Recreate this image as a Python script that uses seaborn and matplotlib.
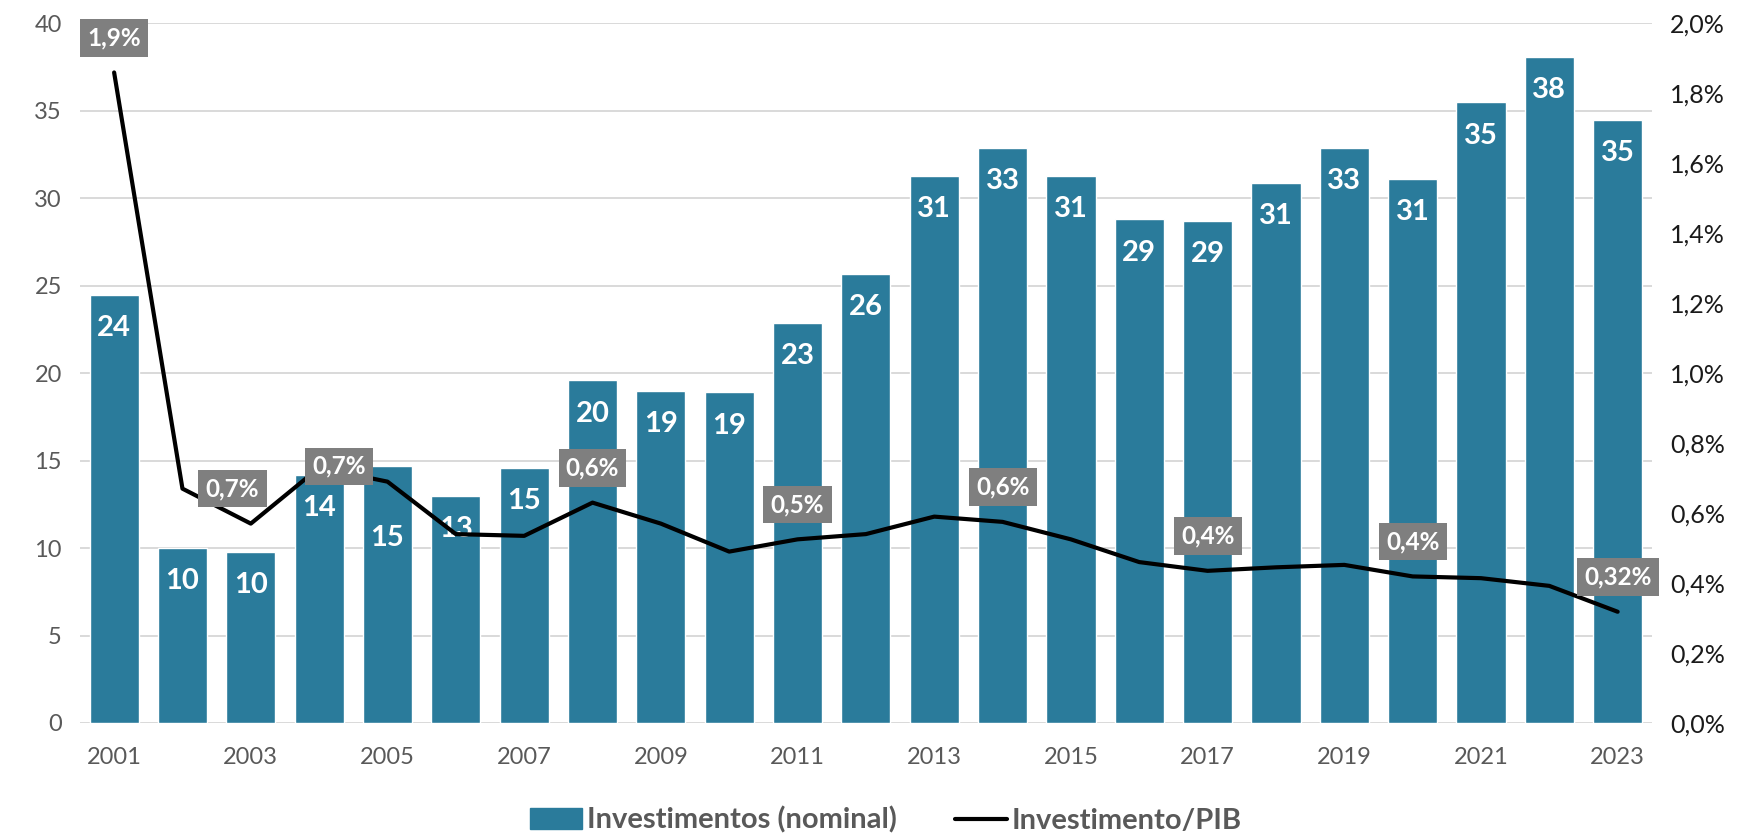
import numpy as np
import pandas as pd
import matplotlib.pyplot as plt
import seaborn as sns
from matplotlib.patches import Patch
from matplotlib.lines import Line2D
from matplotlib.ticker import FuncFormatter

# Data
years = ['2001', '2002', '2003', '2004', '2005', '2006', '2007', '2008', '2009', '2010', '2011', '2012',
         '2013', '2014', '2015', '2016', '2017', '2018', '2019', '2020', '2021', '2022', '2023']
invest = [24.5, 10.0, 9.8, 14.2, 14.7, 13.0, 14.6, 19.6, 19.0, 18.9, 22.9, 25.7,
          31.3, 32.9, 31.3, 28.8, 28.7, 30.9, 32.9, 31.1, 35.5, 38.1, 34.5]
bar_labels = ['24', '10', '10', '14', '15', '13', '15', '20', '19', '19', '23', '26',
              '31', '33', '31', '29', '29', '31', '33', '31', '35', '38', '35']
pib_pct = [1.86, 0.67, 0.57, 0.73, 0.69, 0.54, 0.535, 0.63, 0.57, 0.49, 0.525, 0.54,
           0.59, 0.575, 0.525, 0.46, 0.435, 0.445, 0.452, 0.419, 0.414, 0.392, 0.318]
line_labels = {'2001': '1,9%', '2002': '0,7%', '2005': '0,7%', '2008': '0,6%', '2011': '0,5%',
               '2014': '0,6%', '2017': '0,4%', '2020': '0,4%', '2023': '0,32%'}
xtick_years = ['2001', '2003', '2005', '2007', '2009', '2011', '2013', '2015', '2017', '2019', '2021', '2023']

bar_color = '#2a7b9b'
gray_txt = '#595959'

sns.set_style('white')
plt.rcParams['font.family'] = ['Lato', 'DejaVu Sans']

df = pd.DataFrame({'ano': years, 'invest': invest, 'pib': pib_pct})
df['pos'] = np.arange(len(df))

fig, ax = plt.subplots(figsize=(17.61, 8.39), dpi=100)
fig.subplots_adjust(left=0.0454, right=0.938, bottom=0.1383, top=0.972)

# Bars (left axis)
sns.barplot(data=df, x='ano', y='invest', color=bar_color, saturation=1, width=0.72, ax=ax, zorder=2)
ax.set_ylim(0, 40)
ax.set_xlim(-0.5, len(years) - 0.5)
ax.set_yticks(np.arange(0, 41, 5))
ax.yaxis.grid(True, color='#d9d9d9', lw=1.4)
ax.set_axisbelow(True)
ax.set_xlabel('')
ax.set_ylabel('')
ax.set_xticks([years.index(y) for y in xtick_years])
ax.set_xticklabels(xtick_years)
ax.tick_params(axis='y', labelsize=17, labelcolor=gray_txt, length=0, pad=13)
ax.tick_params(axis='x', labelsize=17, labelcolor=gray_txt, length=0, pad=17)
for s in ax.spines.values():
    s.set_visible(False)

# Bar value labels
for i, (v, lbl) in enumerate(zip(df['invest'], bar_labels)):
    dy = -52 if years[i] == '2005' else -24
    ax.annotate(lbl, (i, v), xytext=(0, dy), textcoords='offset points', ha='center', va='center',
                color='white', fontsize=21, fontweight='bold', zorder=3)

# Line (right axis)
ax2 = ax.twinx()
sns.lineplot(data=df, x='pos', y='pib', color='black', lw=3, ax=ax2)
ax2.set_ylim(0, 2)
ax2.set_yticks(np.arange(0, 2.01, 0.2))
ax2.yaxis.set_major_formatter(FuncFormatter(lambda v, p: f'{v:.1f}%'.replace('.', ',')))
ax2.set_ylabel('')
ax2.set_xlabel('')
ax2.tick_params(axis='y', labelsize=18, labelcolor='#1a1a1a', length=0, pad=13)
for s in ax2.spines.values():
    s.set_visible(False)
ax2.set_xlim(-0.5, len(years) - 0.5)

# Line labels in gray boxes
offsets = {'2002': (36, 0), '2005': (-35, 11)}
for i, y in enumerate(years):
    if y in line_labels:
        off = offsets.get(y, (0, 25))
        ax2.annotate(line_labels[y], (i, pib_pct[i]), xytext=off, textcoords='offset points',
                     ha='center', va='center', color='white', fontsize=17.5, fontweight='bold',
                     bbox=dict(boxstyle='square,pad=0.3', fc='#7f7f7f', ec='none'))

# Legend
handles = [Patch(color=bar_color, label='Investimentos (nominal)'),
           Line2D([], [], color='black', lw=3, label='Investimento/PIB')]
fig.legend(handles=handles, loc='lower center', bbox_to_anchor=(0.503, -0.025), ncol=2, frameon=False,
           prop={'weight': 'bold', 'size': 21}, labelcolor=gray_txt,
           handlelength=1.8, handletextpad=0.15, columnspacing=2.0)

fig.savefig('out.png', dpi=100)
